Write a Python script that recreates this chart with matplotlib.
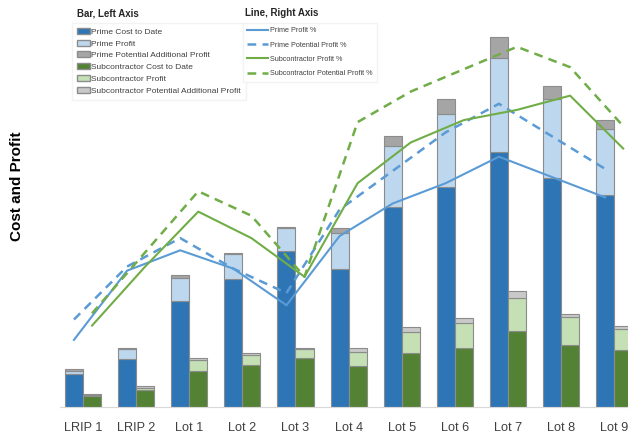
import matplotlib
matplotlib.use("Agg")
import matplotlib.pyplot as plt
import numpy as np
from matplotlib.patches import Patch
from matplotlib.lines import Line2D

plt.rcParams['font.family'] = ['Liberation Sans', 'DejaVu Sans']

# ---- Dati ----
lots = ['LRIP 1', 'LRIP 2', 'Lot 1', 'Lot 2', 'Lot 3', 'Lot 4',
        'Lot 5', 'Lot 6', 'Lot 7', 'Lot 8', 'Lot 9']

# barre (asse sinistro, $M)
prime_cost = [33, 48, 106, 128, 156, 138, 200, 220, 255, 229, 212]
prime_profit = [3.5, 10, 23.5, 25, 23, 36, 61, 73, 94, 79, 66]
prime_potential = [1.5, 0.8, 3, 1, 1, 5, 10, 15, 21, 13, 9]

sub_cost = [11.3, 17, 36.3, 42, 49.3, 41, 54.3, 59.3, 76, 62, 57.3]
sub_profit = [1, 2.3, 10.4, 9.7, 9, 14, 20.4, 24.4, 33.3, 27.7, 20.4]
sub_potential = [0.7, 1.4, 2.3, 2, 0.7, 4.3, 5, 5, 7, 3.3, 3.3]

# linee (asse destro, %)
prime_profit_pct = [3.3, 6.7, 7.7, 6.8, 5.0, 8.4, 10.0, 11.0, 12.3, 11.3, 10.3]
prime_potential_pct = [4.3, 6.9, 8.3, 6.8, 5.6, 9.7, 11.6, 13.5, 14.9, 13.3, 11.7]
sub_profit_pct = [4.0, 6.9, 9.6, 8.3, 6.4, 11.0, 13.0, 14.1, 14.6, 15.3, 12.7]
sub_potential_pct = [4.6, 7.6, 10.6, 9.4, 6.4, 14.0, 15.5, 16.6, 17.7, 16.7, 13.8]

# ---- Colori ----
c_pcost, c_pprof, c_ppot = '#2E75B6', '#BDD7EE', '#A5A5A5'
c_scost, c_sprof, c_spot = '#548235', '#C5E0B4', '#C9C9C9'
c_bline, c_gline = '#5B9BD5', '#70AD47'
edge = '#8C8C8C'

W, H = 628, 436
fig = plt.figure(figsize=(W / 100, H / 100), dpi=100)
ax = fig.add_axes([60 / W, (H - 407) / H, (W - 60) / W, 407 / H])

x = np.arange(len(lots))
bw = 0.34
xp = x - bw / 2
xs = x + bw / 2

pc = np.array(prime_cost)
pp = np.array(prime_profit)
sc = np.array(sub_cost)
sp = np.array(sub_profit)

kw = dict(width=bw, edgecolor=edge, linewidth=0.8)
ax.bar(xp, pc, color=c_pcost, **kw)
ax.bar(xp, pp, bottom=pc, color=c_pprof, **kw)
ax.bar(xp, prime_potential, bottom=pc + pp, color=c_ppot, **kw)
ax.bar(xs, sc, color=c_scost, **kw)
ax.bar(xs, sp, bottom=sc, color=c_sprof, **kw)
ax.bar(xs, sub_potential, bottom=sc + sp, color=c_spot, **kw)

ax.set_xlim(-0.433, 10.26)
ax.set_ylim(0, 407)
ax.set_xticks(x)
ax.set_xticklabels(lots, fontsize=9.2, color='#404040')
ax.tick_params(axis='x', length=0, pad=11)
ax.set_yticks([])
for s in ['top', 'right', 'left']:
    ax.spines[s].set_visible(False)
ax.spines['bottom'].set_color('#D9D9D9')

# ---- Linee ----
ax2 = ax.twinx()
dash = (0, (3.5, 2.5))
ax2.plot(xp, prime_profit_pct, color=c_bline, lw=1.5)
ax2.plot(xp, prime_potential_pct, color=c_bline, lw=1.8, linestyle=dash)
ax2.plot(xs, sub_profit_pct, color=c_gline, lw=1.5)
ax2.plot(xs, sub_potential_pct, color=c_gline, lw=1.8, linestyle=dash)
ax2.set_ylim(0, 20)
ax2.set_yticks([])
for s in ['top', 'right', 'left', 'bottom']:
    ax2.spines[s].set_visible(False)

# ---- Legende ----
bar_handles = [
    Patch(facecolor=c_pcost, edgecolor=edge, label='Prime Cost to Date'),
    Patch(facecolor=c_pprof, edgecolor=edge, label='Prime Profit'),
    Patch(facecolor=c_ppot, edgecolor=edge, label='Prime Potential Additional Profit'),
    Patch(facecolor=c_scost, edgecolor=edge, label='Subcontractor Cost to Date'),
    Patch(facecolor=c_sprof, edgecolor=edge, label='Subcontractor Profit'),
    Patch(facecolor=c_spot, edgecolor=edge, label='Subcontractor Potential Additional Profit'),
]
leg1 = ax2.legend(handles=bar_handles, loc='upper left',
                  bbox_to_anchor=(72 / W, 1 - 23 / H), bbox_transform=fig.transFigure,
                  fontsize=6.0, handlelength=1.6, handleheight=0.7, handletextpad=0.1,
                  labelspacing=0.47, borderpad=0.6, borderaxespad=0,
                  frameon=True, fancybox=False, edgecolor='#F0F0F0', labelcolor='#404040')
ax2.add_artist(leg1)

line_handles = [
    Line2D([], [], color=c_bline, lw=1.5, label='Prime Profit %'),
    Line2D([], [], color=c_bline, lw=1.8, linestyle=dash, label='Prime Potential Profit %'),
    Line2D([], [], color=c_gline, lw=1.5, label='Subcontractor Profit %'),
    Line2D([], [], color=c_gline, lw=1.8, linestyle=dash, label='Subcontractor Potential Profit %'),
]
ax2.legend(handles=line_handles, loc='upper left',
           bbox_to_anchor=(243 / W, 1 - 23 / H), bbox_transform=fig.transFigure,
           fontsize=5.2, handlelength=2.8, handletextpad=0.35,
           labelspacing=1.0, borderpad=0.6, borderaxespad=0,
           frameon=True, fancybox=False, edgecolor='#F0F0F0', labelcolor='#404040')

fig.text(77 / W, 1 - 14 / H, 'Bar, Left Axis', fontsize=7, fontweight='bold',
         va='center', ha='left', color='#262626')
fig.text(245 / W, 1 - 13 / H, 'Line, Right Axis', fontsize=7, fontweight='bold',
         va='center', ha='left', color='#262626')
fig.text(17 / W, 1 - 186 / H, 'Cost and Profit', fontsize=11, fontweight='bold',
         rotation=90, va='center', ha='center', color='#000000')

fig.savefig('out.png', dpi=100)
